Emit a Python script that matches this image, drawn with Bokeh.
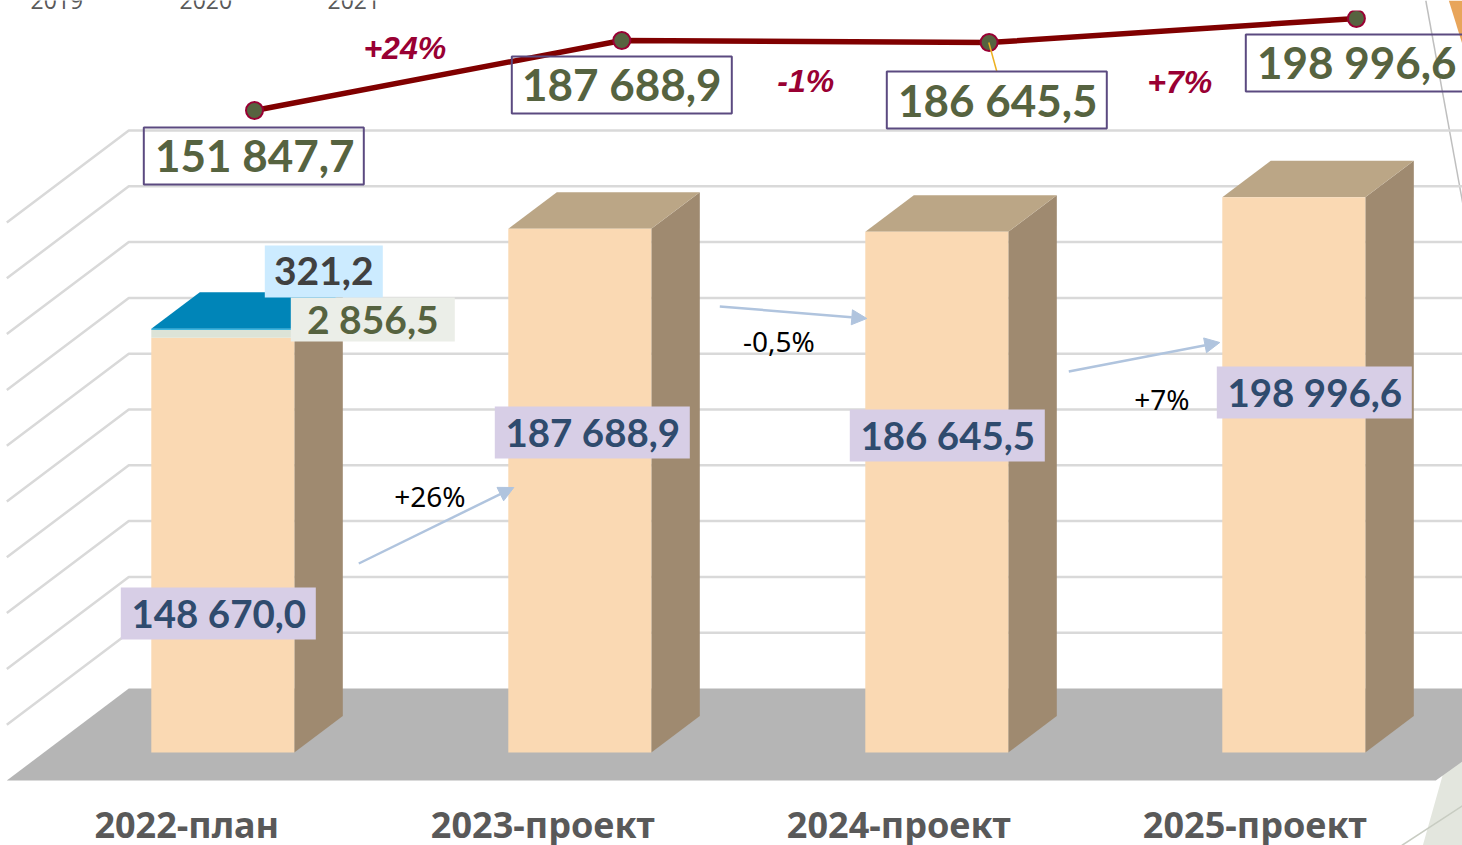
from bokeh.embed import file_html
from bokeh.resources import INLINE
from bokeh.plotting import figure
from bokeh.models import Range1d, Arrow, NormalHead
from bokeh.core.properties import value

# ---------- data ----------
categories = ["2022-план", "2023-проект", "2024-проект", "2025-проект"]
base_values = [148670.0, 187688.9, 186645.5, 198996.6]
extra_green = [2856.5, 0, 0, 0]
extra_blue = [321.2, 0, 0, 0]
total_values = [151847.7, 187688.9, 186645.5, 198996.6]
base_labels = ["148 670,0", "187 688,9", "186 645,5", "198 996,6"]
total_labels = ["151 847,7", "187 688,9", "186 645,5", "198 996,6"]
green_label = "2 856,5"
blue_label = "321,2"
line_growth = ["+24%", "-1%", "+7%"]
bar_growth = ["+26%", "-0,5%", "+7%"]
old_years = ["2019", "2020", "2021"]
grid_ticks = [20000, 40000, 60000, 80000, 100000, 120000, 140000, 160000, 180000, 200000]

# ---------- layout ----------
W, H = 1462, 845
K = 0.00279          # px per unit, bars
K2 = 0.001953        # px per unit, line
Y0 = 752             # baseline px of front faces
SLOT, X0 = 357, 223  # bar spacing and first centre, px
LSLOT, LX0 = 367.3, 254
BAR_W = 143
DX, DY = 48.5, 36.5
BACK_Y = 688
SHIFT = 0.7


def sx(px):
    return (px - X0) / SLOT


def vy(py):
    return (Y0 - py) / K


dslot = DX / SLOT
dval = DY / K
bw = BAR_W / SLOT

p = figure(width=W, height=H, output_backend="svg", toolbar_location=None,
           x_range=Range1d(sx(SHIFT), sx(W + SHIFT)), y_range=Range1d(vy(H), vy(0)),
           min_border=0, min_border_left=0, min_border_right=0, min_border_top=0,
           min_border_bottom=0, outline_line_color=None, background_fill_color="white")
p.axis.visible = False
p.grid.visible = False
p.extra_x_ranges["line"] = Range1d((0 - LX0) / LSLOT, (W - LX0) / LSLOT)
p.extra_y_ranges["line"] = Range1d(187688.9 + (40 - H) / K2, 187688.9 + (40 - 0) / K2)


def txt(px, py, s, size, color, font="Lato", style="bold"):
    p.text([sx(px)], [vy(py)], text=[s], text_font=value(font), text_font_style=style,
           text_font_size=f"{size}px", text_color=color, text_align="center",
           text_baseline="middle")


def box(x0, y0, x1, y1, fill=None, line=None, lw=2):
    p.quad(left=[sx(x0)], right=[sx(x1)], top=[vy(y0)], bottom=[vy(y1)],
           fill_color=fill, line_color=line, line_width=lw)


# decoration behind the chart
p.patch([sx(1449), sx(1463), sx(1463)], [vy(0), vy(0), vy(45)], fill_color="#E8A55A", line_color=None)
p.patch([sx(1423), sx(1447), sx(1463), sx(1463)], [vy(845), vy(760), vy(750), vy(845)],
        fill_color="#E3E6DE", line_color=None)
p.line([sx(1426), sx(1463)], [vy(0), vy(203)], line_color="#BFBFBF", line_width=1.5)
p.line([sx(1402), sx(1463)], [vy(845), vy(805)], line_color="#C8CCC2", line_width=1.5)

# back wall grid
back_off = (Y0 - BACK_Y) / K
for t in grid_ticks:
    yb = t + back_off
    p.line([sx(7), sx(129), sx(W + 2)], [yb - 92 / K, yb, yb], line_color="#D9D9D9", line_width=2.5)

# floor
p.patch([sx(7), sx(129), sx(W + 2), sx(W + 2), sx(1436)],
        [vy(780), vy(BACK_Y), vy(BACK_Y), vy(760), vy(780)],
        fill_color="#B5B5B5", line_color=None)

# 3D bars
for i in range(4):
    total = base_values[i] + extra_green[i] + extra_blue[i]
    l, r = i - bw / 2, i + bw / 2
    p.patch([r, r + dslot, r + dslot, r], [0, dval, total + dval, total],
            fill_color="#9F8A70", line_color=None)
    p.patch([l, l + dslot, r + dslot, r], [total, total + dval, total + dval, total],
            fill_color="#0085B8" if extra_blue[i] else "#BBA686", line_color=None)
xs = list(range(4))
p.vbar(x=xs, width=bw, bottom=0, top=base_values, fill_color="#FAD9B3", line_color=None)
bott = [a for a in base_values]
tops = [a + b for a, b in zip(base_values, extra_green)]
p.vbar(x=xs, width=bw, bottom=bott, top=tops, fill_color="#DCE3D7", line_color=None)
bott2 = tops
tops2 = [a + b for a, b in zip(tops, extra_blue)]
p.vbar(x=xs, width=bw, bottom=bott2, top=tops2, fill_color="#00A0D8", line_color=None)

# arrows
for (a, b, c, d) in [(359, 563, 514, 487), (720, 306, 867, 318), (1069, 371, 1220, 342)]:
    p.add_layout(Arrow(x_start=sx(a), y_start=vy(b), x_end=sx(c), y_end=vy(d),
                       line_color="#B0C4DE", line_width=2.5,
                       end=NormalHead(size=15, fill_color="#B0C4DE", line_color="#B0C4DE")))
for s, (a, b) in zip(bar_growth, [(430, 495), (779, 340), (1162, 398)]):
    txt(a, b, s, 28, "#000000", font="Noto Sans", style="normal")

# value labels on bars
for s, (a, b, cx) in zip(base_labels, [(121, 587, 219), (495, 406, 593), (850, 409, 948), (1217, 366, 1315)]):
    box(a, b, a + 195, b + 52, fill="#D7CEE6")
    txt(cx, b + 25, s, 38.5, "#2F4B6E")
box(291, 297, 455, 341, fill="#EBEEE8")
txt(373, 318, green_label, 39, "#566340")
box(265, 245, 383, 297, fill="#CCEBFF")
txt(324, 270, blue_label, 39, "#404040")

# total line
lx = list(range(4))
p.line(lx, total_values, x_range_name="line", y_range_name="line", line_color="#800000", line_width=5.5)
p.scatter(lx, total_values, x_range_name="line", y_range_name="line", size=17,
          fill_color="#566340", line_color="#990033", line_width=2)
p.line([sx(989), sx(997)], [vy(42), vy(71)], line_color="#EDB120", line_width=1.5)
box(1335, 0, 1380, 10, fill="white", line=None)

for s, (a, b, cx, cy) in zip(total_labels, [(144, 127, 255, 154), (512, 56, 622, 83), (887, 71, 998, 99), (1246, 34, 1357, 61)]):
    box(a, b, a + 220, b + 57, line="#5B4A80")
    txt(cx, cy, s, 44, "#566340")

for s, (a, b) in zip(line_growth, [(405, 47), (806, 80), (1180, 81)]):
    txt(a, b, s, 32, "#990033", font="Liberation Sans", style="bold italic")

for i, s in enumerate(categories):
    txt(187 + 356 * i, 824, s, 36, "#595959", font="Noto Sans")
for s, a in zip(old_years, [57, 206, 354]):
    txt(a, 0, s, 23, "#595959", font="Open Sans", style="normal")

open("out.html", "w").write(file_html(p, INLINE))
